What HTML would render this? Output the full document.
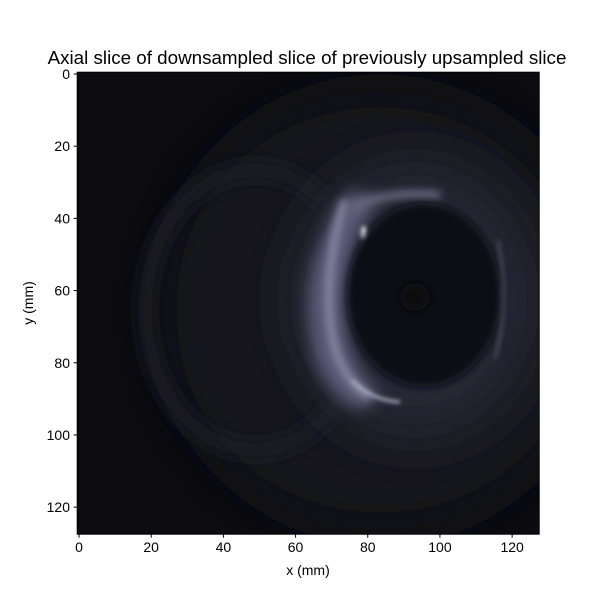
<!DOCTYPE html>
<html><head><meta charset="utf-8"><style>
body{margin:0;background:#fff;}
svg{display:block;font-family:"Liberation Sans",sans-serif;}
</style></head><body>
<svg id="chart" width="600" height="600" viewBox="0 0 600 600">
<defs>
<clipPath id="clip"><rect x="77.2" y="72.2" width="462" height="462"/></clipPath>
<filter id="b20" filterUnits="userSpaceOnUse" x="0" y="0" width="600" height="600"><feGaussianBlur stdDeviation="25"/></filter>
<filter id="b8" filterUnits="userSpaceOnUse" x="0" y="0" width="600" height="600"><feGaussianBlur stdDeviation="8"/></filter>
<filter id="b4" filterUnits="userSpaceOnUse" x="0" y="0" width="600" height="600"><feGaussianBlur stdDeviation="4"/></filter>
<filter id="b2" filterUnits="userSpaceOnUse" x="0" y="0" width="600" height="600"><feGaussianBlur stdDeviation="2"/></filter>
</defs>
<text x="307" y="64" text-anchor="middle" font-size="18.8" fill="#000">Axial slice of downsampled slice of previously upsampled slice</text>
<g clip-path="url(#clip)">
<rect x="77.2" y="72.2" width="462" height="462" fill="#0b0b10"/>
<ellipse cx="380" cy="310" rx="220" ry="220" fill="#15151d" filter="url(#b20)"/>
<ellipse cx="255" cy="310" rx="110" ry="140" fill="none" stroke="#1d1d27" stroke-width="14" filter="url(#b8)"/>
<ellipse cx="415" cy="300" rx="125" ry="140" fill="#262636" filter="url(#b20)"/>
<path d="M350 190 Q300 260 310 330 Q315 390 360 410 L380 395 Q340 360 345 290 Q350 230 380 200 Z" fill="#5c5c78" filter="url(#b8)"/>
<path d="M345 200 Q325 260 330 320 Q335 375 370 398" fill="none" stroke="#8a8aa6" stroke-width="7" filter="url(#b4)"/>
<path d="M352 380 Q370 400 400 402" fill="none" stroke="#a8b4c4" stroke-width="3" filter="url(#b2)"/>
<path d="M350 210 Q380 190 440 195" fill="none" stroke="#66667e" stroke-width="8" filter="url(#b4)"/>
<ellipse cx="364" cy="233" rx="3" ry="7" fill="#e0ecf0" filter="url(#b2)"/>
<ellipse cx="424" cy="295" rx="77" ry="92" fill="#0d0c15" filter="url(#b4)"/>
<ellipse cx="415" cy="297" rx="15" ry="14" fill="#07070b" filter="url(#b4)"/>
<path d="M498 240 Q510 300 495 360" fill="none" stroke="#44445a" stroke-width="3" filter="url(#b2)"/>
</g>
<rect x="77.2" y="72.2" width="462" height="462" fill="none" stroke="#000" stroke-width="1"/>
<g id="xt"></g>
<g id="yt"></g>
<text x="308" y="575" text-anchor="middle" font-size="14">x (mm)</text>
<text transform="translate(33,303) rotate(-90)" text-anchor="middle" font-size="14">y (mm)</text>
</svg>
<script>
const xTicks=[0,20,40,60,80,100,120];
const yTicks=[0,20,40,60,80,100,120];
const ext=[-0.5,127.5];
const sx=v=>77.2+(v-ext[0])/(ext[1]-ext[0])*462;
const sy=v=>72.2+(v-ext[0])/(ext[1]-ext[0])*462;
const NS="http://www.w3.org/2000/svg";
const xt=document.getElementById('xt'),yt=document.getElementById('yt');
xTicks.forEach(t=>{
 const l=document.createElementNS(NS,'line');
 l.setAttribute('x1',sx(t));l.setAttribute('x2',sx(t));l.setAttribute('y1',534.2);l.setAttribute('y2',537.7);l.setAttribute('stroke','#000');
 
 
 xt.appendChild(l);
 const s=document.createElementNS(NS,'text');
 s.setAttribute('x',sx(t));s.setAttribute('y',552);s.setAttribute('text-anchor','middle');s.setAttribute('font-size','14');s.textContent=t;
 
 
 xt.appendChild(s);
});
yTicks.forEach(t=>{
 const l=document.createElementNS(NS,'line');
 l.setAttribute('x1',73.7);l.setAttribute('x2',77.2);l.setAttribute('y1',sy(t));l.setAttribute('y2',sy(t));l.setAttribute('stroke','#000');
 
 
 yt.appendChild(l);
 const s=document.createElementNS(NS,'text');
 s.setAttribute('x',70);s.setAttribute('y',sy(t)+5);s.setAttribute('text-anchor','end');s.setAttribute('font-size','14');s.textContent=t;
 
 
 yt.appendChild(s);
});
</script>
</body></html>
